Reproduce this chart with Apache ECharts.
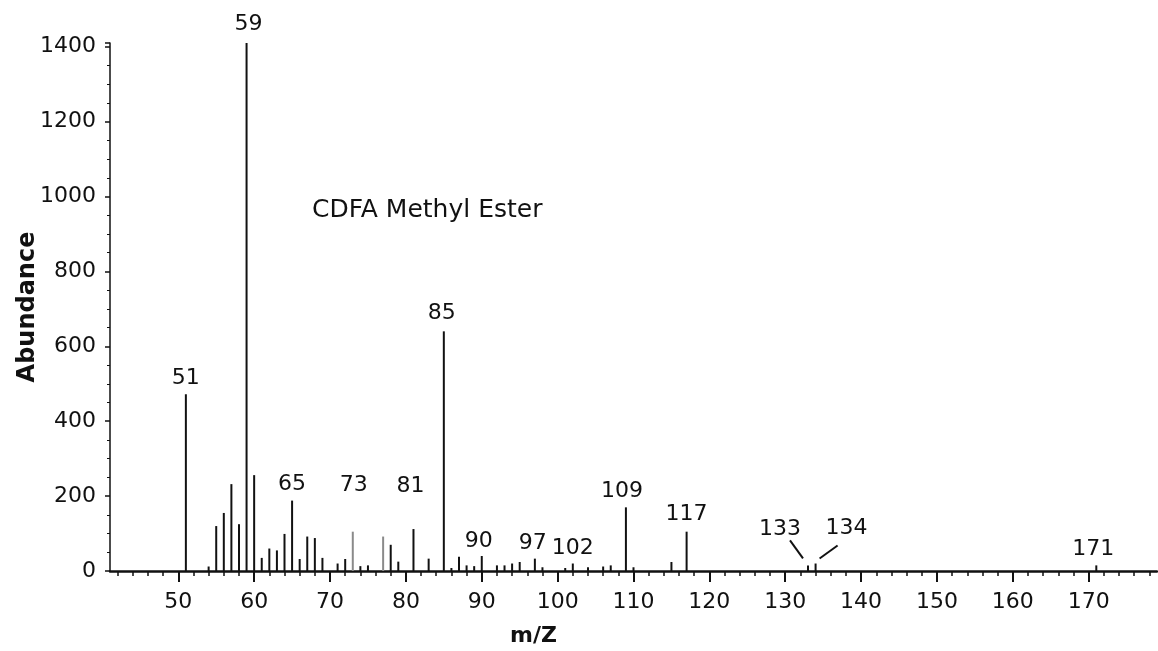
<!DOCTYPE html>
<html>
<head>
<meta charset="utf-8">
<script src="https://cdn.jsdelivr.net/npm/echarts@6/dist/echarts.min.js"></script>
<style>
  html, body { margin: 0; padding: 0; background: #fff; }
  #chart { width: 1158px; height: 651px; }
</style>
</head>
<body>
<div id="chart"></div>
<script>
// Mass spectrum of CDFA methyl ester: m/z positions and their abundances
const mzValues = [51, 54, 55, 56, 57, 58, 59, 60, 61, 62, 63, 64, 65, 66, 67, 68, 69, 71, 72, 73,
  74, 75, 77, 78, 79, 81, 83, 85, 86, 87, 88, 89, 90, 92, 93, 94, 95, 97, 98, 101,
  102, 104, 106, 107, 109, 110, 115, 117, 133, 134, 171];
const abundances = [472, 12, 120, 155, 232, 125, 1410, 256, 35, 60, 55, 99, 188, 32, 92, 88, 35, 20, 32, 105,
  13, 15, 92, 70, 25, 112, 33, 640, 8, 38, 15, 13, 40, 15, 15, 20, 24, 33, 10, 8,
  20, 10, 12, 15, 170, 10, 24, 105, 15, 20, 15];

// Peaks that carry an m/z annotation
const labeledPeaks = [51, 59, 65, 73, 81, 85, 90, 97, 102, 109, 117, 133, 134, 171];
// Faint (thin) traces
const faintPeaks = [73, 77];

// Axis tick values
const xMajorTicks = [50, 60, 70, 80, 90, 100, 110, 120, 130, 140, 150, 160, 170];
const xMinorTicks = [42, 44, 46, 48, 52, 54, 56, 58, 62, 64, 66, 68, 72, 74, 76, 78, 82, 84, 86, 88,
  92, 94, 96, 98, 102, 104, 106, 108, 112, 114, 116, 118, 122, 124, 126, 128, 132, 134, 136, 138,
  142, 144, 146, 148, 152, 154, 156, 158, 162, 164, 166, 168, 172, 174, 176, 178];

// Label placement tweaks (pixels) relative to the top of each annotated peak
const labelShift = {
  51: [0, -1], 59: [2, -4], 65: [0, -1], 73: [1, -31], 81: [-3, -28], 85: [-2, -3],
  90: [-3, 0], 97: [-2, 0], 102: [0, 0], 109: [-4, -1], 117: [0, -2],
  133: [-28, -21], 134: [31, -20], 171: [-3, -1]
};
// Leader lines (pixel offsets from the peak top: start, end)
const leaderLines = {
  133: [[-18, -25], [-5, -7]],
  134: [[22, -18], [4, -5]]
};

const FONT = 'DejaVu Sans';

const barData = mzValues.map((m, i) => {
  const item = { value: [m, abundances[i]] };
  if (faintPeaks.includes(m)) {
    item.itemStyle = { color: '#8a8a8a' };
  }
  if (labeledPeaks.includes(m)) {
    item.label = {
      show: true,
      position: 'top',
      distance: 4,
      offset: labelShift[m] || [0, 0],
      formatter: String(m)
    };
  }
  return item;
});

const leaderData = Object.keys(leaderLines).map(k => {
  const m = Number(k);
  return [m, abundances[mzValues.indexOf(m)]];
});

const chart = echarts.init(document.getElementById('chart'));
chart.setOption({
  animation: false,
  backgroundColor: '#ffffff',
  grid: { left: 110, right: 1, top: 43, bottom: 80, containLabel: false },
  xAxis: [
    {
      type: 'value',
      min: 41,
      max: 179,
      splitLine: { show: false },
      axisLine: { show: true, onZero: false, lineStyle: { color: '#111', width: 2.5 } },
      axisTick: { show: true, length: 11, customValues: xMajorTicks, lineStyle: { color: '#111', width: 2 } },
      axisLabel: {
        show: true, customValues: xMajorTicks, margin: 20,
        color: '#111', fontFamily: FONT, fontSize: 22
      }
    },
    {
      type: 'value',
      position: 'bottom',
      min: 41,
      max: 179,
      splitLine: { show: false },
      axisLine: { show: false },
      axisTick: { show: true, length: 5, customValues: xMinorTicks, lineStyle: { color: '#111', width: 1.5 } },
      axisLabel: { show: false }
    }
  ],
  yAxis: {
    type: 'value',
    min: 0,
    max: 1410,
    interval: 200,
    name: 'Abundance',
    nameLocation: 'middle',
    nameGap: 70,
    nameMoveOverlap: false,
    nameTextStyle: { color: '#111', fontFamily: FONT, fontSize: 24, fontWeight: 'bold' },
    splitLine: { show: false },
    axisLine: { show: true, lineStyle: { color: '#111', width: 1.5 } },
    axisTick: { show: true, length: 5, lineStyle: { color: '#111', width: 1.5 } },
    minorTick: { show: true, splitNumber: 4, length: 3, lineStyle: { color: '#111', width: 1 } },
    axisLabel: {
      margin: 14, color: '#111', fontFamily: FONT, fontSize: 22,
      formatter: v => (v % 200 === 0 ? String(v) : '')
    }
  },
  graphic: [
    {
      type: 'text', left: 312, top: 198,
      style: { text: 'CDFA Methyl Ester', fill: '#111', font: '25px "DejaVu Sans"' }
    },
    {
      type: 'text', left: 510, top: 625,
      style: { text: 'm/Z', fill: '#111', font: 'bold 22px "DejaVu Sans"' }
    }
  ],
  series: [
    {
      type: 'bar',
      xAxisIndex: 0,
      barWidth: 2,
      itemStyle: { color: '#111' },
      label: { color: '#111', fontFamily: FONT, fontSize: 22 },
      data: barData
    },
    {
      type: 'custom',
      xAxisIndex: 0,
      silent: true,
      data: leaderData,
      renderItem: (params, api) => {
        const m = api.value(0);
        const p = api.coord([m, api.value(1)]);
        const seg = leaderLines[m];
        return {
          type: 'line',
          shape: {
            x1: p[0] + seg[0][0], y1: p[1] + seg[0][1],
            x2: p[0] + seg[1][0], y2: p[1] + seg[1][1]
          },
          style: { stroke: '#111', lineWidth: 2 }
        };
      }
    }
  ]
});
</script>
</body>
</html>
